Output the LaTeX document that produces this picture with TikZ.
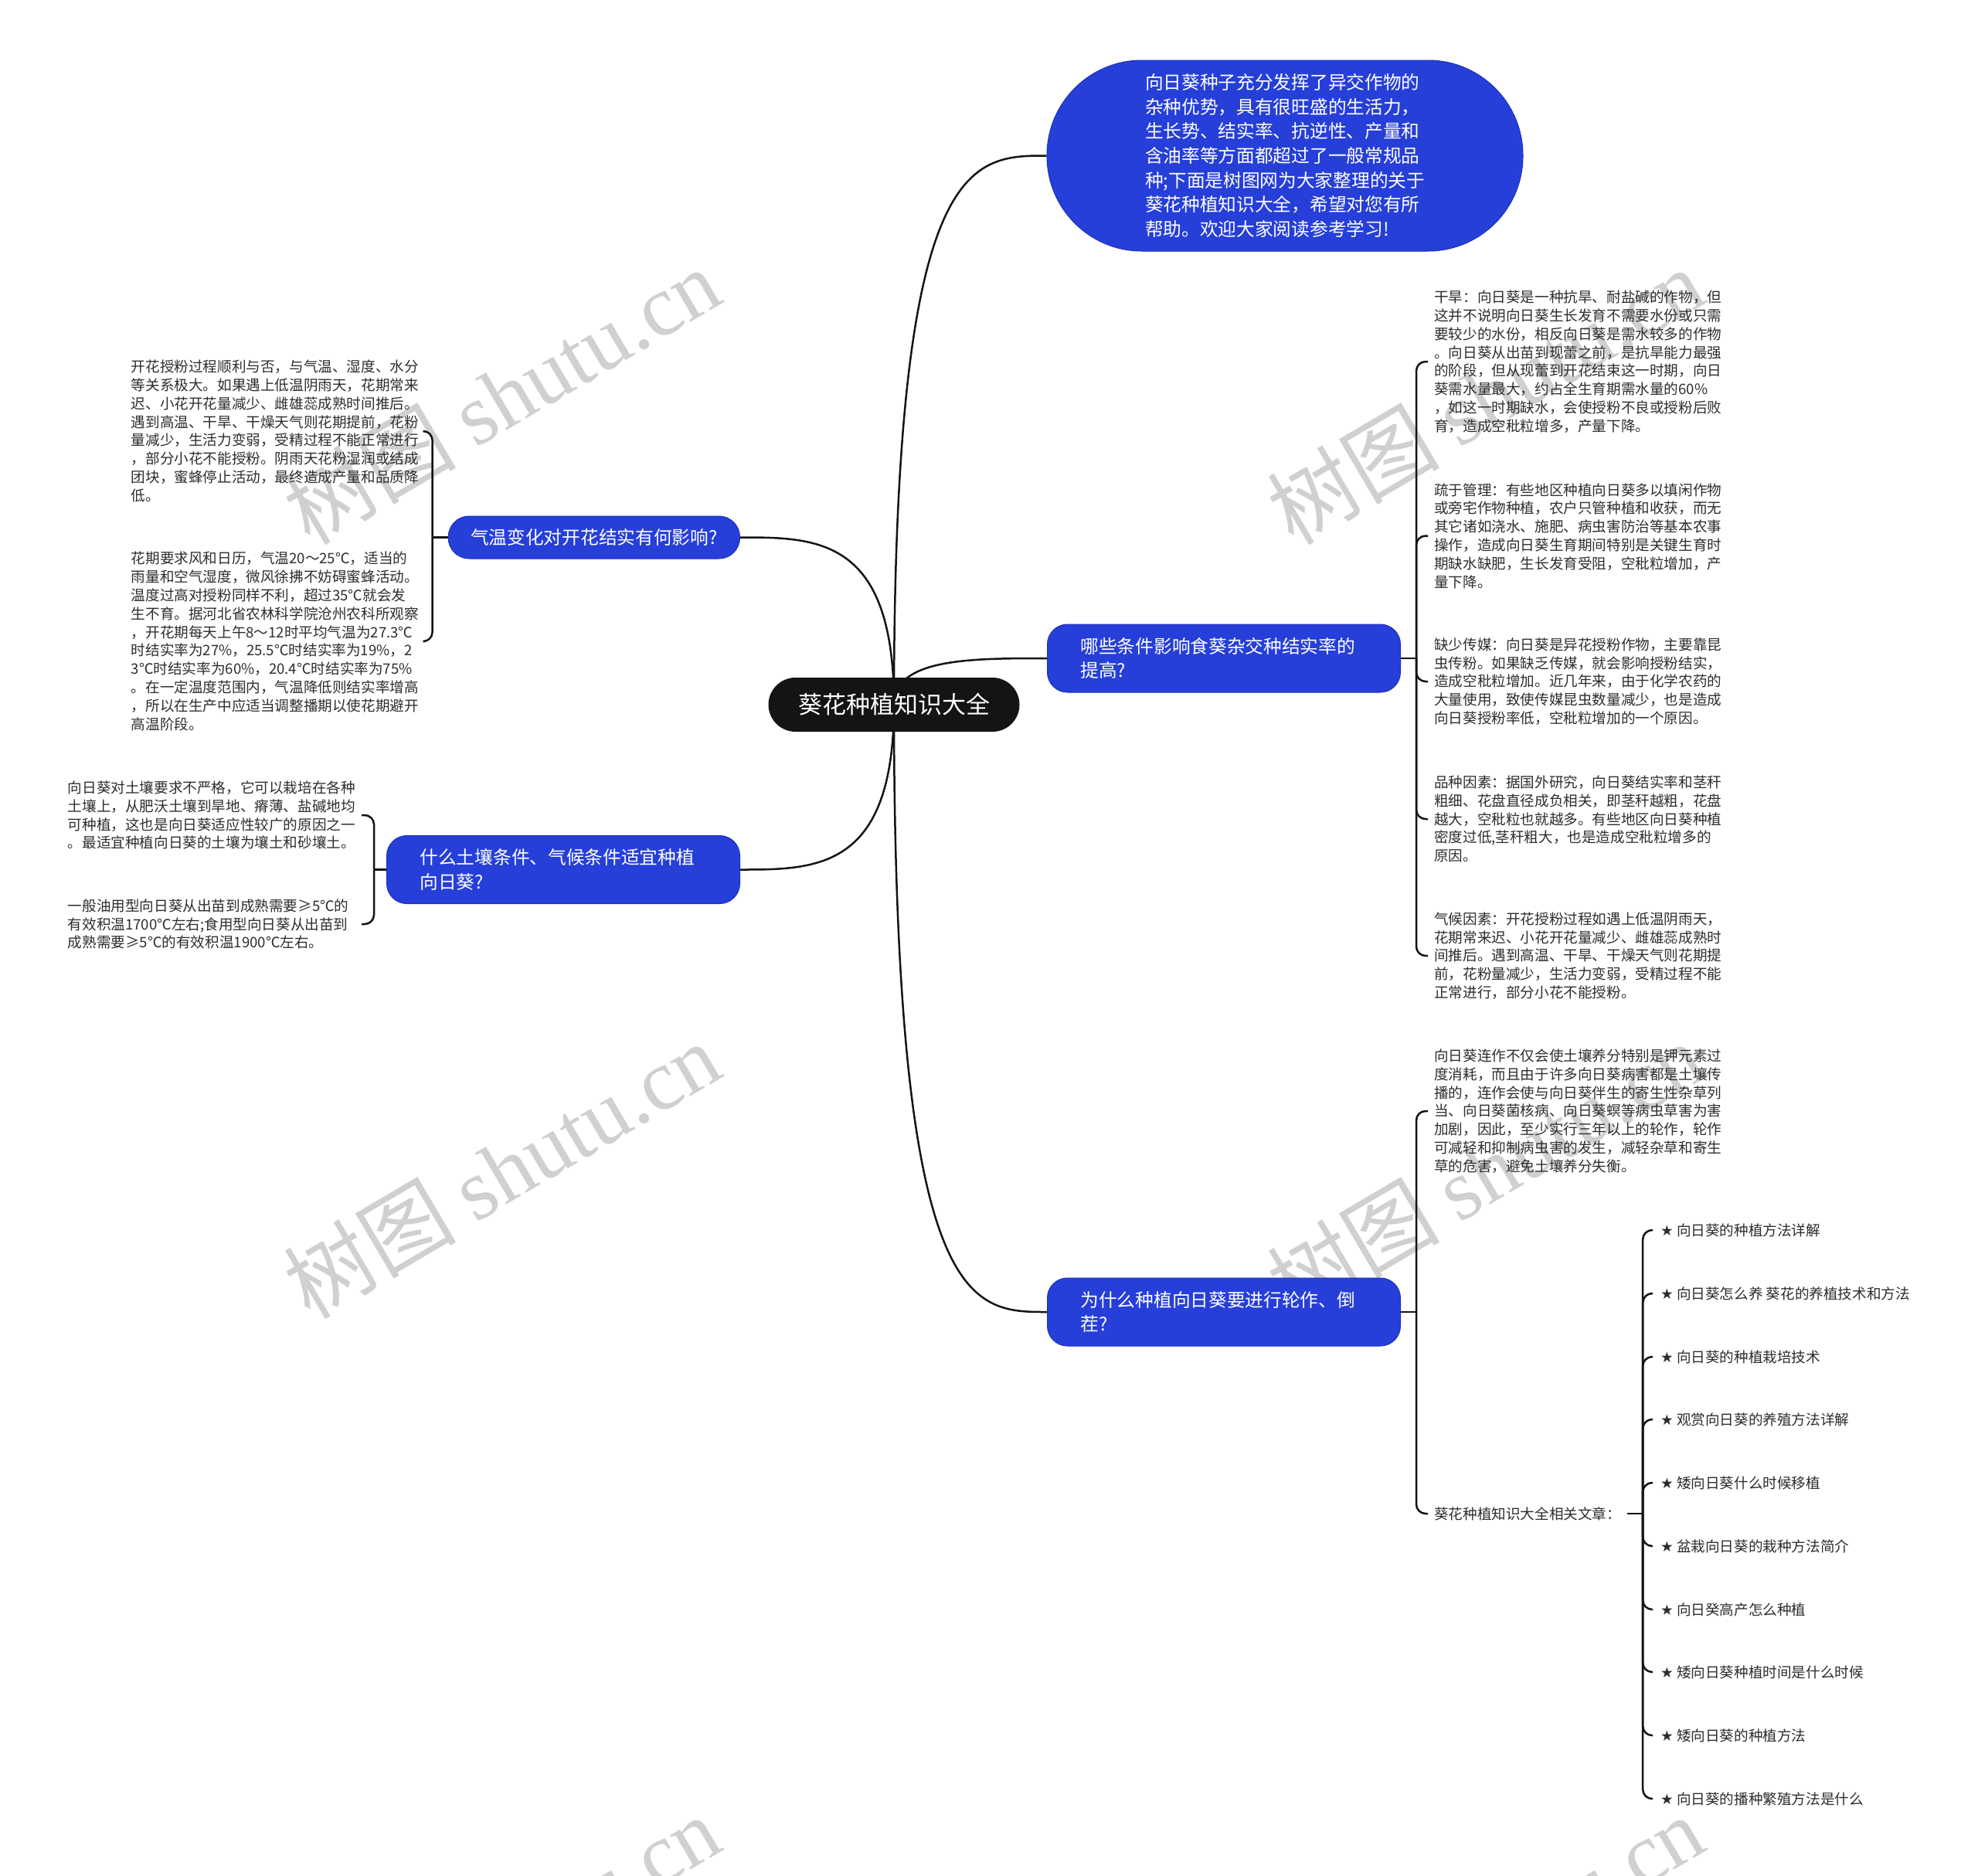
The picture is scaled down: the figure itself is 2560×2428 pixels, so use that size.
\documentclass[tikz,border=0pt]{standalone}
\usepackage{fontspec}
\setmainfont{Noto Sans CJK SC}
\newfontfamily\starfont{DejaVu Sans}
\newfontfamily\wmlatin{Liberation Serif}
\usetikzlibrary{calc}
\definecolor{nodeblue}{RGB}{38,63,217}
\definecolor{nodeedge}{RGB}{30,48,185}
\definecolor{leafgray}{RGB}{45,45,45}
\definecolor{wmgray}{RGB}{208,208,208}
\definecolor{linecol}{RGB}{20,20,20}
\pgfdeclarelayer{wm}
\pgfdeclarelayer{bg}
\pgfsetlayers{wm,bg,main}
\begin{document}
\begin{tikzpicture}[x=1pt,y=-1pt,
  conn/.style={draw=linecol, line width=2.5pt},
  busconn/.style={conn, rounded corners=12pt},
  leaf/.style={inner xsep=8pt, inner ysep=0pt, align=left, text width=372pt, text=leafgray, font=\fontsize{18.6}{23.8}\selectfont},
  label/.style={inner xsep=8pt, inner ysep=2pt, text=leafgray, font=\fontsize{18.6}{23.8}\selectfont},
  itemnode/.style={inner xsep=10pt, inner ysep=2pt, text=leafgray, font=\fontsize{18.6}{23.8}\selectfont},
  bluebox/.style={fill=nodeblue, draw=nodeedge, line width=1pt, text=white, font=\fontsize{23.7}{31.6}\selectfont, align=left},
  twoline/.style={bluebox, text width=371pt, inner xsep=43pt, minimum height=88pt, rounded corners=26pt},
  rootbox/.style={fill=black!92, text=white, rounded corners=35pt, minimum width=325pt, minimum height=70pt, inner sep=0pt, font=\fontsize{31}{38}\selectfont},
  wmark/.style={rotate=30.5, text=wmgray, inner sep=0pt, font=\fontsize{112}{112}\selectfont}
]
\useasboundingbox (0,0) rectangle (2560,2428);

% watermark layer
\begin{pgfonlayer}{wm}
\fill[white] (0,0) rectangle (2560,2428);
\node[wmark] (wm1) at (649,512) {树图 {\wmlatin shutu.cn}};
\node[wmark] (wm2) at (1922,512) {树图 {\wmlatin shutu.cn}};
\node[wmark] (wm3) at (649,1514) {树图 {\wmlatin shutu.cn}};
\node[wmark] (wm4) at (1922,1514) {树图 {\wmlatin shutu.cn}};
\node[wmark] (wm5) at (649,2515) {树图 {\wmlatin shutu.cn}};
\node[wmark] (wm6) at (1922,2515) {树图 {\wmlatin shutu.cn}};
\end{pgfonlayer}

% root
\node[rootbox] (root) at (1157,912) {葵花种植知识大全};

% intro
\node[bluebox, text width=362pt, minimum width=616pt, minimum height=247pt, rounded corners=123pt] (intro) at (1663,201.5)
{向日葵种子充分发挥了异交作物的\\杂种优势，具有很旺盛的生活力，\\生长势、结实率、抗逆性、产量和\\含油率等方面都超过了一般常规品\\种;下面是树图网为大家整理的关于\\葵花种植知识大全，希望对您有所\\帮助。欢迎大家阅读参考学习!};

% branches
\node[bluebox, inner xsep=29pt, minimum height=55pt, rounded corners=27pt, anchor=east] (b1) at (958,695.5) {气温变化对开花结实有何影响?};
\node[twoline, anchor=east] (b2) at (958,1125.5) {什么土壤条件、气候条件适宜种植\\向日葵?};
\node[twoline, anchor=west] (b3) at (1355,852) {哪些条件影响食葵杂交种结实率的\\提高?};
\node[twoline, anchor=west] (b4) at (1355,1698) {为什么种植向日葵要进行轮作、倒\\茬?};

% left leaves, branch 1
\node[leaf, anchor=east] (a1) at (550,558) {开花授粉过程顺利与否，与气温、湿度、水分\\等关系极大。如果遇上低温阴雨天，花期常来\\迟、小花开花量减少、雌雄蕊成熟时间推后。\\遇到高温、干旱、干燥天气则花期提前，花粉\\量减少，生活力变弱，受精过程不能正常进行\\，部分小花不能授粉。阴雨天花粉湿润或结成\\团块，蜜蜂停止活动，最终造成产量和品质降\\低。};
\node[leaf, anchor=east] (a2) at (550,830) {花期要求风和日历，气温20～25℃，适当的\\雨量和空气湿度，微风徐拂不妨碍蜜蜂活动。\\温度过高对授粉同样不利，超过35℃就会发\\生不育。据河北省农林科学院沧州农科所观察\\，开花期每天上午8～12时平均气温为27.3℃\\时结实率为27\%，25.5℃时结实率为19\%，2\\3℃时结实率为60\%，20.4℃时结实率为75\%\\。在一定温度范围内，气温降低则结实率增高\\，所以在生产中应适当调整播期以使花期避开\\高温阶段。};

% left leaves, branch 2
\node[leaf, anchor=east] (c1) at (468,1055) {向日葵对土壤要求不严格，它可以栽培在各种\\土壤上，从肥沃土壤到旱地、瘠薄、盐碱地均\\可种植，这也是向日葵适应性较广的原因之一\\。最适宜种植向日葵的土壤为壤土和砂壤土。};
\node[leaf, anchor=east] (c2) at (468,1196) {一般油用型向日葵从出苗到成熟需要≥5℃的\\有效积温1700℃左右;食用型向日葵从出苗到\\成熟需要≥5℃的有效积温1900℃左右。};

% right leaves, branch 3
\node[leaf, anchor=west] (e1) at (1848,468) {干旱：向日葵是一种抗旱、耐盐碱的作物，但\\这并不说明向日葵生长发育不需要水份或只需\\要较少的水份，相反向日葵是需水较多的作物\\。向日葵从出苗到现蕾之前，是抗旱能力最强\\的阶段，但从现蕾到开花结束这一时期，向日\\葵需水量最大，约占全生育期需水量的60\%\\，如这一时期缺水，会使授粉不良或授粉后败\\育，造成空秕粒增多，产量下降。};
\node[leaf, anchor=west] (e2) at (1848,693.5) {疏于管理：有些地区种植向日葵多以填闲作物\\或旁宅作物种植，农户只管种植和收获，而无\\其它诸如浇水、施肥、病虫害防治等基本农事\\操作，造成向日葵生育期间特别是关键生育时\\期缺水缺肥，生长发育受阻，空秕粒增加，产\\量下降。};
\node[leaf, anchor=west] (e3) at (1848,882) {缺少传媒：向日葵是异花授粉作物，主要靠昆\\虫传粉。如果缺乏传媒，就会影响授粉结实，\\造成空秕粒增加。近几年来，由于化学农药的\\大量使用，致使传媒昆虫数量减少，也是造成\\向日葵授粉率低，空秕粒增加的一个原因。};
\node[leaf, anchor=west] (e4) at (1848,1060) {品种因素：据国外研究，向日葵结实率和茎秆\\粗细、花盘直径成负相关，即茎秆越粗，花盘\\越大，空秕粒也就越多。有些地区向日葵种植\\密度过低,茎秆粗大，也是造成空秕粒增多的\\原因。};
\node[leaf, anchor=west] (e5) at (1848,1237) {气候因素：开花授粉过程如遇上低温阴雨天，\\花期常来迟、小花开花量减少、雌雄蕊成熟时\\间推后。遇到高温、干旱、干燥天气则花期提\\前，花粉量减少，生活力变弱，受精过程不能\\正常进行，部分小花不能授粉。};

% right leaves, branch 4
\node[leaf, anchor=west] (f1) at (1848,1438) {向日葵连作不仅会使土壤养分特别是钾元素过\\度消耗，而且由于许多向日葵病害都是土壤传\\播的，连作会使与向日葵伴生的寄生性杂草列\\当、向日葵菌核病、向日葵螟等病虫草害为害\\加剧，因此，至少实行三年以上的轮作，轮作\\可减轻和抑制病虫害的发生，减轻杂草和寄生\\草的危害，避免土壤养分失衡。};
\node[label, anchor=west] (f2) at (1848,1959) {葵花种植知识大全相关文章：};

% article list
\node[itemnode, anchor=west] (k1) at (2139,1592) {{\starfont ★} 向日葵的种植方法详解};
\node[itemnode, anchor=west] (k2) at (2139,1674) {{\starfont ★} 向日葵怎么养 葵花的养植技术和方法};
\node[itemnode, anchor=west] (k3) at (2139,1756) {{\starfont ★} 向日葵的种植栽培技术};
\node[itemnode, anchor=west] (k4) at (2139,1837) {{\starfont ★} 观赏向日葵的养殖方法详解};
\node[itemnode, anchor=west] (k5) at (2139,1919) {{\starfont ★} 矮向日葵什么时候移植};
\node[itemnode, anchor=west] (k6) at (2139,2001) {{\starfont ★} 盆栽向日葵的栽种方法简介};
\node[itemnode, anchor=west] (k7) at (2139,2083) {{\starfont ★} 向日癸高产怎么种植};
\node[itemnode, anchor=west] (k8) at (2139,2164) {{\starfont ★} 矮向日葵种植时间是什么时候};
\node[itemnode, anchor=west] (k9) at (2139,2246) {{\starfont ★} 矮向日葵的种植方法};
\node[itemnode, anchor=west] (k10) at (2139,2328) {{\starfont ★} 向日葵的播种繁殖方法是什么};

% bus junction coordinates
\coordinate (j1) at ($(b1.west)+(-20,0)$);
\coordinate (j2) at ($(b2.west)+(-16,0)$);
\coordinate (j3) at ($(b3.east)+(20,0)$);
\coordinate (j4) at ($(b4.east)+(20,0)$);
\coordinate (j5) at ($(f2.east)+(20,0)$);

\begin{pgfonlayer}{bg}
% root curves
\foreach \t in {intro,b3,b4}{
  \draw[conn] (root.center) .. controls (root.center |- \t.west) and ($(root.center |- \t.west)!0.5!(\t.west)$) .. (\t.west);
}
\foreach \t in {b1,b2}{
  \draw[conn] (root.center) .. controls (root.center |- \t.east) and ($(root.center |- \t.east)!0.5!(\t.east)$) .. (\t.east);
}
% buses
\draw[conn] (b1.west) -- (j1);
\foreach \c in {a1,a2}{ \draw[busconn] (j1) |- (\c.east); }
\draw[conn] (b2.west) -- (j2);
\foreach \c in {c1,c2}{ \draw[busconn] (j2) |- (\c.east); }
\draw[conn] (b3.east) -- (j3);
\foreach \c in {e1,e2,e3,e4,e5}{ \draw[busconn] (j3) |- (\c.west); }
\draw[conn] (b4.east) -- (j4);
\foreach \c in {f1,f2}{ \draw[busconn] (j4) |- (\c.west); }
\draw[conn] (f2.east) -- (j5);
\foreach \c in {k1,k2,k3,k4,k5,k6,k7,k8,k9,k10}{ \draw[busconn] (j5) |- (\c.west); }
\end{pgfonlayer}
\end{tikzpicture}
\end{document}
